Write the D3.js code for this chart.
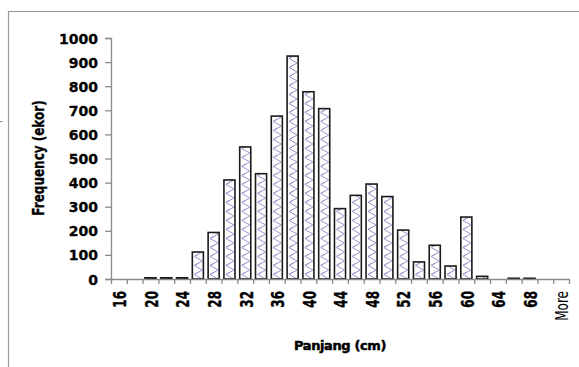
<!DOCTYPE html>
<html>
<head>
<meta charset="utf-8">
<script src="https://cdn.jsdelivr.net/npm/d3@7"></script>
<style>
  body { margin: 0; background: #fff; }
  svg { display: block; }
  text { font-family: "DejaVu Sans", sans-serif; font-weight: bold; fill: #000; }
</style>
</head>
<body>
<svg id="chart"></svg>
<script>
const width = 579;
const height = 367;

// bins (cm) and frequencies
const bins = ["16", "18", "20", "22", "24", "26", "28", "30", "32", "34", "36", "38", "40", "42",
  "44", "46", "48", "50", "52", "54", "56", "58", "60", "62", "64", "66", "68", "70", "More"];
const freq = [0, 0, 5, 5, 5, 112, 193, 411, 548, 437, 676, 925, 777, 707,
  292, 347, 394, 342, 203, 71, 140, 54, 257, 11, 0, 3, 3, 0, 0];
const yTicks = [0, 100, 200, 300, 400, 500, 600, 700, 800, 900, 1000];

const plot = { left: 111, right: 569, top: 38, bottom: 279 };

const svg = d3.select("#chart")
  .attr("width", width)
  .attr("height", height);

const x = d3.scaleLinear().domain([0, bins.length]).range([plot.left, plot.right]);
const y = d3.scaleLinear().domain([0, 1000]).range([plot.bottom, plot.top]);
const step = x(1) - x(0);
const barW = step * 0.7;
const barX = i => x(i + 0.5) - barW / 2;

// zigzag hatch, one tile per bin so every bar gets the same offset
const pat = svg.append("defs").append("pattern")
  .attr("id", "hatch")
  .attr("patternUnits", "userSpaceOnUse")
  .attr("x", barX(0))
  .attr("y", 0)
  .attr("width", step)
  .attr("height", 9);
pat.append("rect").attr("width", step).attr("height", 9).attr("fill", "#fff");
pat.append("path")
  .attr("d", `M${barW - 1},0 L2,4.5 L${barW - 1},9 M2,4.5 L6,2`)
  .attr("fill", "none")
  .attr("stroke", "#8a8ac8")
  .attr("stroke-width", 0.9);

// chart area border (only top/left visible)
svg.append("path")
  .attr("d", `M8.5,${height} V11.5 H${width}`)
  .attr("fill", "none")
  .attr("stroke", "#9a9a9a")
  .attr("stroke-width", 1.2);
svg.append("line")
  .attr("x1", 0).attr("x2", 2.5).attr("y1", 121.5).attr("y2", 121.5)
  .attr("stroke", "#888");

// bars
svg.append("g")
  .selectAll("rect")
  .data(freq.map((v, i) => ({ v, i })).filter(d => d.v > 0))
  .join("rect")
  .attr("x", d => barX(d.i))
  .attr("y", d => y(d.v))
  .attr("width", barW)
  .attr("height", d => y(0) - y(d.v))
  .attr("fill", "url(#hatch)")
  .attr("stroke", "#1a1a1a")
  .attr("stroke-width", 1.6);

// y axis
const yAxis = svg.append("g")
  .attr("transform", `translate(${plot.left},0)`)
  .call(d3.axisLeft(y).tickValues(yTicks).tickSize(6).tickFormat(d3.format("d")));
yAxis.select(".domain").attr("stroke", "#8a8a8a").attr("stroke-width", 1.3);
yAxis.selectAll(".tick line").attr("stroke", "#8a8a8a").attr("stroke-width", 1.3);
yAxis.selectAll(".tick text")
  .attr("x", -13)
  .attr("dy", "0.36em")
  .style("font-family", "DejaVu Sans, sans-serif")
  .style("font-weight", "bold")
  .style("font-size", "14px")
  .attr("fill", "#000")
  .attr("stroke", "#000")
  .attr("stroke-width", 0.3);

// x axis (ticks at bin boundaries)
const xAxis = svg.append("g")
  .attr("transform", `translate(0,${plot.bottom})`)
  .call(d3.axisBottom(x).tickValues(d3.range(0, bins.length + 1)).tickSize(5).tickFormat("").tickSizeOuter(0));
xAxis.select(".domain").attr("stroke", "#8a8a8a").attr("stroke-width", 1.3);
xAxis.selectAll(".tick line").attr("stroke", "#8a8a8a").attr("stroke-width", 1.3);

// x tick labels, every other bin
svg.append("g")
  .selectAll("text")
  .data(bins.map((b, i) => ({ b, i })).filter(d => d.i % 2 === 0))
  .join("text")
  .attr("transform", d => `translate(${x(d.i + 0.5) + 1},291) scale(1.45,1) rotate(-90)`)
  .attr("text-anchor", "end")
  .attr("dy", "0.36em")
  .style("font-size", "12px")
  .style("font-weight", d => d.b === "More" ? "normal" : "bold")
  .attr("stroke", d => d.b === "More" ? "none" : "#000")
  .attr("stroke-width", 0.25)
  .text(d => d.b);

// axis titles
svg.append("text")
  .attr("transform", "translate(38,158) scale(1.35,1) rotate(-90)")
  .attr("text-anchor", "middle")
  .attr("dy", "0.36em")
  .style("font-size", "12px")
  .attr("stroke", "#000")
  .attr("stroke-width", 0.25)
  .text("Frequency (ekor)");

svg.append("text")
  .attr("x", 340)
  .attr("y", 350)
  .attr("text-anchor", "middle")
  .style("font-size", "13px")
  .style("letter-spacing", "-0.4px")
  .attr("stroke", "#000")
  .attr("stroke-width", 0.5)
  .text("Panjang (cm)");
</script>
</body>
</html>
